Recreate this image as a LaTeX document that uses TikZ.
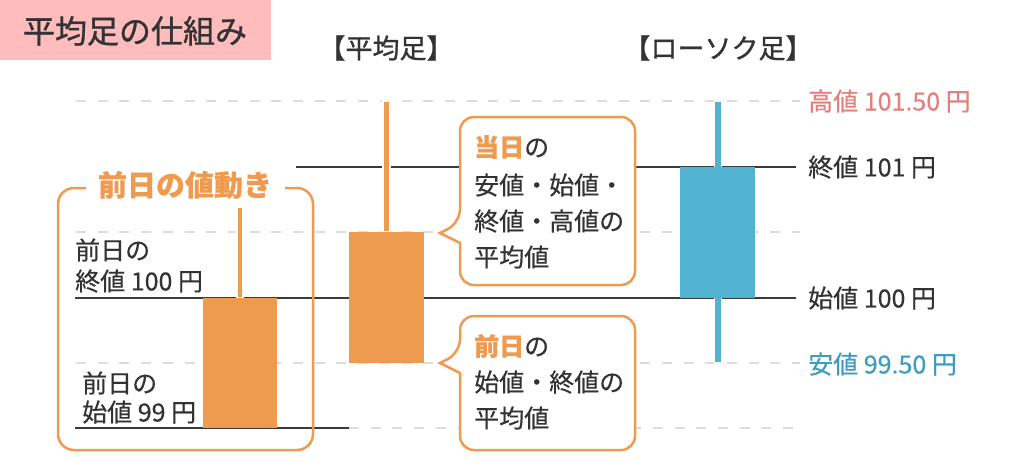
\documentclass[tikz,border=0pt]{standalone}
\usepackage{fontspec}
\setmainfont{Noto Sans CJK JP}[FakeBold=0.4]
\newfontfamily\medfont{Noto Sans CJK JP}[FakeBold=1.0]
\definecolor{pinkbg}{HTML}{FFBCBD}
\definecolor{org}{HTML}{EE9A4F}
\definecolor{blu}{HTML}{52B2D2}
\definecolor{redtxt}{HTML}{E47F7B}
\definecolor{blutxt}{HTML}{3C9DC0}
\definecolor{txt}{HTML}{333333}
\definecolor{dashgray}{HTML}{DDDDDD}
\definecolor{solidline}{HTML}{3A3A3A}
\begin{document}
\begin{tikzpicture}[x=1pt,y=-1pt,
  guide/.style={draw=dashgray, line width=2pt, dash pattern=on 10pt off 11.7pt},
  level/.style={draw=solidline, line width=2.5pt},
  body/.style={fill=#1, draw=none},
  wick/.style={fill=#1, draw=white, line width=1.2pt},
  lbl/.style={font=\fontsize{25}{29}\selectfont, text=txt, inner sep=0pt, anchor=west},
  hd/.style={font=\fontsize{27}{32}\selectfont\medfont, text=txt, inner sep=0pt},
  callout/.style={draw=org, line width=2.5pt, fill=white},
  frame/.style={draw=org, line width=2.5pt, rounded corners=16pt},
]
\useasboundingbox (0,0) rectangle (1024,469);

% title
\fill[pinkbg] (0,0) rectangle (271,60);
\node[font=\fontsize{32}{38}\selectfont\medfont, text=txt, inner sep=0pt] (title) at (135,31) {平均足の仕組み};

\node[hd] (avgttl) at (386,48) {【平均足】};
\node[hd] (candlettl) at (718,48) {【ローソク足】};

% guide lines
\coordinate (g1a) at (76,101);  \coordinate (g1b) at (800,101);
\coordinate (g2a) at (76,232);  \coordinate (g2b) at (800,232);
\coordinate (g3a) at (76,363);  \coordinate (g3b) at (800,363);
\coordinate (g4a) at (349,428); \coordinate (g4b) at (800,428);
\draw[guide] (g1a) -- (g1b);
\draw[guide] (g2a) -- (g2b);
\draw[guide] (g3a) -- (g3b);
\draw[guide] (g4a) -- (g4b);

% solid levels
\coordinate (s1a) at (296,167); \coordinate (s1b) at (796,167);
\coordinate (s2a) at (75,298);  \coordinate (s2b) at (796,298);
\coordinate (s3a) at (75,428);  \coordinate (s3b) at (349,428);
\draw[level] (s1a) -- (s1b);
\draw[level] (s2a) -- (s2b);
\draw[level] (s3a) -- (s3b);

% previous-day candle
\filldraw[wick=org] (237,207) rectangle (243,298);
\fill[body=org] (203,298) rectangle (277,428);

% average candle
\filldraw[wick=org] (383,101) rectangle (390,232);
\fill[body=org] (349,232) rectangle (424,363);

% candlestick
\filldraw[wick=blu] (714.5,101) rectangle (721.5,363);
\fill[body=blu] (680,167) rectangle (755,298);

% frame of previous-day move
\draw[frame] (86,188) -- (58,188) -- (58,450) -- (313,450) -- (313,188) -- (285,188);
\node[font=\fontsize{29}{34}\selectfont\bfseries, text=org, inner sep=0pt] (prevttl) at (185,185) {前日の値動き};

\node[lbl] (pc1) at (75,250) {前日の};
\node[lbl] (pc2) at (75,281) {終値 100 円};
\node[lbl] (po1) at (82,383) {前日の};
\node[lbl] (po2) at (82,412) {始値 99 円};

% callout 1
\draw[callout] (460,243) [rounded corners=14pt] -- (460,285) -- (635,285) -- (635,117) -- (460,117) -- (460,223) [sharp corners] -- (440,233) -- cycle;
\node[lbl] (c1l1) at (474,147) {\textcolor{org}{\bfseries 当日}の};
\node[lbl] (c1l2) at (474,185) {安値・始値・};
\node[lbl] (c1l3) at (474,221) {終値・高値の};
\node[lbl] (c1l4) at (474,257) {平均値};

% callout 2
\draw[callout] (460,373) [rounded corners=14pt] -- (460,450) -- (635,450) -- (635,316) -- (460,316) -- (460,353) [sharp corners] -- (440,363) -- cycle;
\node[lbl] (c2l1) at (474,346) {\textcolor{org}{\bfseries 前日}の};
\node[lbl] (c2l2) at (474,382) {始値・終値の};
\node[lbl] (c2l3) at (474,418) {平均値};

% right labels
\node[lbl, text=redtxt] (high) at (808,101) {高値 101.50 円};
\node[lbl] (close) at (808,167) {終値 101 円};
\node[lbl] (open) at (808,298) {始値 100 円};
\node[lbl, text=blutxt] (low) at (808,364) {安値 99.50 円};
\end{tikzpicture}
\end{document}
